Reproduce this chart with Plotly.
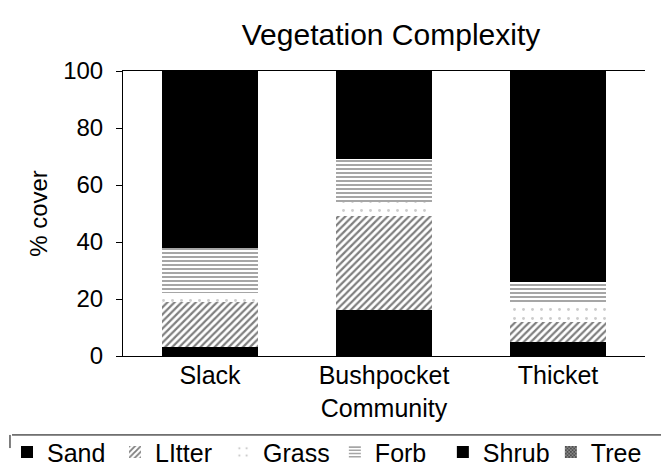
import plotly.graph_objects as go

categories = ["Slack", "Bushpocket<br>Community", "Thicket"]
sand = [3, 16, 5]
litter = [16, 33, 7]
grass = [3, 5, 7]
forb = [16, 15, 7]
shrub = [62, 31, 74]
tree = [0, 0, 0]

series = [
    ("Sand", sand, dict(color="black"), "legend"),
    ("LItter", litter, dict(color="white", pattern=dict(shape="/", fgcolor="black", bgcolor="white", size=5, solidity=0.45)), "legend"),
    ("Grass", grass, dict(color="white", pattern=dict(shape=".", fgcolor="#999999", bgcolor="white", size=9, solidity=0.08)), "legend"),
    ("Forb", forb, dict(color="white", pattern=dict(shape="-", fgcolor="black", bgcolor="white", size=4, solidity=0.35)), "legend2"),
    ("Shrub", shrub, dict(color="black"), "legend2"),
    ("Tree", tree, dict(color="#333333", pattern=dict(shape="x", fgcolor="black", bgcolor="#888888", size=3, solidity=0.5)), "legend2"),
]

fig = go.Figure()
for name, vals, marker, leg in series:
    m = dict(marker)
    m["line"] = dict(width=0)
    fig.add_trace(go.Bar(name=name, x=categories, y=vals, marker=m, legend=leg))

font = "Liberation Sans, Arial, sans-serif"
leg_common = dict(orientation="h", xref="container", yref="container", xanchor="left",
                  y=0.04, yanchor="middle", font=dict(size=25),
                  entrywidth=63, entrywidthmode="pixels", traceorder="normal",
                  bgcolor="rgba(0,0,0,0)")
fig.update_layout(
    barmode="stack",
    bargap=0.45,
    width=661, height=471,
    margin=dict(l=123, r=16, t=71, b=115, autoexpand=False),
    paper_bgcolor="white", plot_bgcolor="white",
    font=dict(family=font, size=24, color="black"),
    title=dict(text="Vegetation Complexity", x=0.5915, xanchor="center", y=0.926, yanchor="middle",
               font=dict(size=30, color="black")),
    showlegend=True,
    legend=dict(x=0.0106, **leg_common),
    legend2=dict(x=0.5066, **leg_common),
)
fig.update_xaxes(showline=True, linecolor="black", linewidth=1, mirror=True, ticks="",
                 tickfont=dict(size=25), showgrid=False, ticklabelstandoff=-3)
fig.update_yaxes(range=[0, 100], tickvals=[0, 20, 40, 60, 80, 100], showline=True, linecolor="black",
                 linewidth=1, ticks="outside", ticklen=6, tickcolor="black", showgrid=False,
                 zeroline=False, tickfont=dict(size=24), ticklabelstandoff=8,
                 title=dict(text="% cover", font=dict(size=24), standoff=8))

fig.add_shape(type="line", xref="paper", yref="paper", x0=-0.2126, x1=1.031, y0=-0.277, y1=-0.277,
              line=dict(color="black", width=1))
fig.add_shape(type="line", xref="paper", yref="paper", x0=-0.2165, x1=-0.2165, y0=-0.277, y1=-0.323,
              line=dict(color="black", width=1))

fig.write_html("out.html", post_script="document.body.style.margin='0';",
               config={"displayModeBar": False})
